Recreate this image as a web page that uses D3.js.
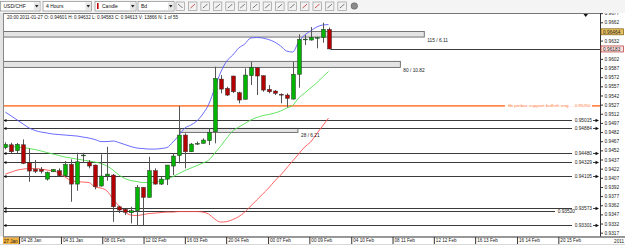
<!DOCTYPE html>
<html><head><meta charset="utf-8">
<script src="https://cdn.jsdelivr.net/npm/d3@7"></script>
<style>
html,body{margin:0;padding:0;background:#f0f0f0;overflow:hidden;}
svg{display:block;font-family:"Liberation Sans",Arial,sans-serif;}
</style></head><body>
<svg id="c" width="625" height="245"></svg>
<script>
// ---- data (USD/CHF, 4 Hours) ----
const open = [0.94563,0.94612,0.94514,0.94612,0.94317,0.94209,0.94205,0.94049,0.94169,0.94186,
0.94104,0.94291,0.93967,0.94432,0.94328,0.94279,0.93935,0.94099,0.94115,0.93595,
0.93553,0.93497,0.93530,0.93913,0.93749,0.94186,0.93967,0.94049,0.94263,0.94435,
0.94771,0.94497,0.94632,0.94635,0.94678,0.94825,0.95689,0.95537,0.95739,0.95465,
0.95357,0.95744,0.95875,0.95744,0.95521,0.95493,0.95439,0.95427,0.95361,0.95767,
0.96341,0.96329,0.96367,0.96370,0.96505];
const high = [0.94651,0.94645,0.94640,0.94700,0.94553,0.94361,0.94246,0.94172,0.94213,0.94225,
0.94345,0.94373,0.94481,0.94481,0.94361,0.94287,0.94455,0.94579,0.94131,0.93612,
0.93557,0.93595,0.93951,0.93918,0.94415,0.94225,0.94087,0.94279,0.94471,0.95247,
0.94799,0.94640,0.94664,0.94717,0.94881,0.95891,0.95755,0.95563,0.95744,0.95481,
0.95865,0.95973,0.95878,0.95747,0.95591,0.95509,0.95455,0.95455,0.95968,0.96423,
0.96411,0.96542,0.96383,0.96613,0.96534];
const low = [0.94537,0.94471,0.94476,0.94295,0.94005,0.94148,0.94140,0.94025,0.94164,0.94099,
0.94087,0.93677,0.93858,0.94312,0.94225,0.93881,0.93926,0.94022,0.93349,0.93492,
0.93459,0.93323,0.93279,0.93295,0.93746,0.93959,0.93951,0.93951,0.94115,0.94307,
0.94225,0.94492,0.94607,0.94632,0.94607,0.94635,0.95455,0.95411,0.95460,0.95291,
0.95353,0.95591,0.95427,0.95481,0.95455,0.95427,0.95291,0.95225,0.95353,0.95547,
0.96247,0.96321,0.96193,0.96285,0.96181];
const close = [0.94619,0.94497,0.94619,0.94307,0.94181,0.94176,0.94176,0.94159,0.94209,0.94104,
0.94291,0.93967,0.94333,0.94443,0.94263,0.93923,0.94099,0.94131,0.93595,0.93541,
0.93503,0.93530,0.93913,0.93749,0.94186,0.93967,0.94049,0.94279,0.94427,0.94771,
0.94497,0.94623,0.94635,0.94689,0.94815,0.95701,0.95525,0.95427,0.95481,0.95345,
0.95755,0.95881,0.95739,0.95509,0.95481,0.95455,0.95435,0.95373,0.95767,0.96341,
0.96345,0.96373,0.96370,0.96505,0.96183];

const bbUpper = [0.95148,0.95083,0.95017,0.94951,0.94886,0.94845,0.94820,0.94804,0.94787,0.94779,
0.94771,0.94763,0.94755,0.94738,0.94722,0.94697,0.94664,0.94664,0.94673,0.94648,
0.94615,0.94582,0.94558,0.94550,0.94541,0.94541,0.94550,0.94566,0.94656,0.94763,
0.94886,0.94935,0.95001,0.95116,0.95279,0.95542,0.95804,0.95985,0.96083,0.96198,
0.96263,0.96362,0.96370,0.96362,0.96337,0.96296,0.96231,0.96149,0.96132,0.96296,
0.96411,0.96477,0.96542,0.96575,0.96583];
const bbMiddle = [0.94599,0.94583,0.94574,0.94566,0.94550,0.94533,0.94509,0.94484,0.94459,0.94435,
0.94410,0.94394,0.94377,0.94361,0.94345,0.94328,0.94304,0.94263,0.94197,0.94115,
0.94058,0.94025,0.94008,0.93992,0.93992,0.94000,0.94025,0.94049,0.94090,0.94140,
0.94189,0.94230,0.94271,0.94312,0.94361,0.94476,0.94591,0.94722,0.94837,0.94902,
0.94960,0.95017,0.95058,0.95091,0.95107,0.95132,0.95165,0.95214,0.95255,0.95378,
0.95460,0.95542,0.95624,0.95722,0.95812];
const bbLower = [0.94131,0.94164,0.94197,0.94213,0.94222,0.94222,0.94213,0.94197,0.94181,0.94148,
0.94082,0.94025,0.94008,0.94000,0.93992,0.93918,0.93902,0.93853,0.93721,0.93607,
0.93508,0.93459,0.93451,0.93467,0.93484,0.93492,0.93500,0.93508,0.93508,0.93516,
0.93516,0.93516,0.93516,0.93508,0.93475,0.93393,0.93344,0.93352,0.93385,0.93434,
0.93508,0.93607,0.93705,0.93803,0.93902,0.94017,0.94115,0.94230,0.94345,0.94459,
0.94574,0.94656,0.94787,0.94919,0.95050];

const levels = [0.95015,0.94884,0.94480,0.94329,0.94105,0.93573,0.93520,0.93301];
const orangeLevel = 0.95250;
const orangeText = "fib pinbar support bullish eng ...";
const lastPrice = 0.96183;
const bidPrice = 0.96464;

const boxHigh = [0.96468,0.95980,0.94881];
const boxLow  = [0.96378,0.95881,0.94815];
const boxStart = [-6,-6,29.2];
const boxEnd   = [70,66,48.9];
const boxLabels = ["115 / 6.11","80 / 10.82","28 / 6.21"];

const yTicks = [0.9317,0.9332,0.9347,0.9362,0.9377,0.9392,0.9407,0.9422,0.9437,0.9452,0.9467,0.9482,
0.9497,0.9512,0.9527,0.9542,0.9557,0.9572,0.9587,0.9602,0.9617,0.9632,0.9647,0.9662,0.9677];
const xTickPos = [2.3,9.3,16.2,23.1,30.0,36.9,43.9,50.8,57.8,64.7,71.6,78.5,85.5,92.4];
const xTickLabels = ["04 28 Jan","04 31 Jan","08 01 Feb","12 02 Feb","16 03 Feb","20 04 Feb","00 07 Feb",
"00 09 Feb","04 10 Feb","08 11 Feb","12 12 Feb","16 13 Feb","16 14 Feb","20 15 Feb"];
const firstLabel = "27 Jan";
const infoText = "20:00 2011-01-27   O: 0.94601   H: 0.94632   L: 0.94583   C: 0.94613   V: 13866   N: 1 of 55";
const toolbarItems = ["USD/CHF","4 Hours","Candle","Bd"];

// ---- layout ----
const svg = d3.select("#c");
const L = 3, R = 600, T = 13, B = 236.5;
const x = d3.scaleLinear().domain([0,54]).range([5.3,328.5]);
const y = d3.scaleLinear().domain([0.9317,0.9662]).range([232.7,22.3]);
const cy = v => Math.round(y(v)) + 0.5;

svg.append("rect").attr("width",625).attr("height",245).attr("fill","#ececec");
svg.append("rect").attr("x",0).attr("y",T).attr("width",625).attr("height",B-T).attr("fill","#fff");
svg.append("rect").attr("x",0).attr("y",T).attr("width",L).attr("height",B-T).attr("fill","#e4e4e4");

svg.append("defs").append("clipPath").attr("id","plot")
  .append("rect").attr("x",L).attr("y",T).attr("width",R-L).attr("height",B-T);
const plot = svg.append("g").attr("clip-path","url(#plot)");

// info line
svg.append("text").attr("x",7).attr("y",19).attr("font-size",4.6).attr("fill","#222").text(infoText);

// boxes
boxHigh.forEach((h,i)=>{
  const x0 = Math.max(L, x(boxStart[i])), x1 = x(boxEnd[i]);
  plot.append("rect").attr("x",x0).attr("y",y(h)).attr("width",x1-x0).attr("height",y(boxLow[i])-y(h))
    .attr("fill","#e4e4e4").attr("stroke","#555").attr("stroke-width",0.8);
  svg.append("text").attr("x",x1+3).attr("y",y(boxLow[i])+5).attr("font-size",4.8).attr("fill","#222").text(boxLabels[i]);
});

// level lines
levels.forEach((v,i)=>{
  const yy = cy(v);
  const short = (i===6);
  const textEnd = short ? 575 : 592;
  plot.append("line").attr("x1",L).attr("x2",textEnd-20).attr("y1",yy).attr("y2",yy)
    .attr("stroke","#3a3a3a").attr("stroke-width",1);
  svg.append("text").attr("x",textEnd).attr("y",yy+1.7).attr("text-anchor","end")
    .attr("font-size",4.8).attr("fill","#222").text(v.toFixed(5));
  if(!short){
    svg.append("path").attr("d",`M593,${yy}h3`).attr("stroke","#111").attr("stroke-width",0.8);
    svg.append("path").attr("d",`M595.5,${yy-1.7}L599,${yy}L595.5,${yy+1.7}Z`).attr("fill","#111");
  }
  svg.append("path").attr("d",`M3,${yy}L6.5,${yy-1.6}L6.5,${yy+1.6}Z`).attr("fill","#111");
});

// orange level
{
  const yy = y(orangeLevel);
  plot.append("line").attr("x1",L).attr("x2",505).attr("y1",yy).attr("y2",yy)
    .attr("stroke","#ff8a4c").attr("stroke-width",1.8);
  plot.append("line").attr("x1",592).attr("x2",R).attr("y1",yy).attr("y2",yy)
    .attr("stroke","#ff8a4c").attr("stroke-width",1.8);
  svg.append("text").attr("x",508).attr("y",yy+1.5).attr("font-size",4)
    .attr("textLength",66).attr("lengthAdjust","spacingAndGlyphs")
    .attr("fill","#ff7a3c").text(orangeText);
  svg.append("text").attr("x",590.5).attr("y",yy+1.5).attr("text-anchor","end").attr("font-size",4.4)
    .attr("fill","#ff7a3c").text(orangeLevel.toFixed(5));
}

// Bollinger bands
const idx = d3.range(open.length);
const band = (arr,color) => plot.append("path").datum(idx)
  .attr("d", d3.line().x(i=>x(i)).y(i=>y(arr[i])).curve(d3.curveMonotoneX))
  .attr("fill","none").attr("stroke",color).attr("stroke-width",0.9);
band(bbUpper,"#5a5aff");
band(bbMiddle,"#50e050");
band(bbLower,"#ff5050");

// candles
const cg = plot.append("g");
idx.forEach(i=>{
  const cx = Math.round(x(i)) + 0.5;
  const up = close[i] >= open[i];
  cg.append("line").attr("x1",cx).attr("x2",cx).attr("y1",y(high[i])).attr("y2",y(low[i]))
    .attr("stroke","#555").attr("stroke-width",1);
  const top = y(Math.max(open[i],close[i])), bot = y(Math.min(open[i],close[i]));
  cg.append("rect").attr("x",cx-2).attr("y",top).attr("width",4).attr("height",Math.max(0.8,bot-top))
    .attr("fill", up ? "#00b400" : "#b40000").attr("stroke","#333").attr("stroke-width",0.5);
});

// last price line
{
  const yy = cy(lastPrice);
  plot.append("line").attr("x1",x(54)+2).attr("x2",R).attr("y1",yy).attr("y2",yy)
    .attr("stroke","#3a3a3a").attr("stroke-width",1);
}

// chart shift marker
svg.append("path").attr("d","M583.5,14L588,14L585.75,17Z").attr("fill","#111");

// frame
svg.append("line").attr("x1",L).attr("x2",R).attr("y1",T+0.5).attr("y2",T+0.5).attr("stroke","#777");
svg.append("line").attr("x1",L+0.5).attr("x2",L+0.5).attr("y1",T).attr("y2",B).attr("stroke","#888");
svg.append("line").attr("x1",R+0.5).attr("x2",R+0.5).attr("y1",T).attr("y2",B+8).attr("stroke","#333");

// right axis
const ax = svg.append("g").attr("transform",`translate(${R+0.5},0)`)
  .call(d3.axisRight(y).tickValues(yTicks).tickSize(2.5).tickPadding(1.5).tickFormat(d3.format(".4f")));
ax.select(".domain").remove();
ax.selectAll("line").attr("stroke","#333");
ax.selectAll("text").attr("font-size",4.8).attr("fill","#222").attr("font-family","Liberation Sans, Arial, sans-serif");
ax.selectAll(".tick").filter(d=>y(d)<T).remove();

// price labels on axis
const priceBox = (v,fill,stroke) => {
  const yy = y(v);
  svg.append("rect").attr("x",R+1).attr("y",yy-3).attr("width",22.5).attr("height",6)
    .attr("fill",fill).attr("stroke",stroke).attr("stroke-width",0.7);
  svg.append("text").attr("x",R+3).attr("y",yy+1.8).attr("font-size",4.8).attr("fill","#222").text(v.toFixed(5));
};
priceBox(bidPrice,"#e8c060","#7a5a10");
priceBox(lastPrice,"#ffe4e0","#b03030");

// bottom axis
svg.append("rect").attr("x",0).attr("y",B).attr("width",625).attr("height",8).attr("fill","#fff");
svg.append("line").attr("x1",L).attr("x2",625).attr("y1",B+0.5).attr("y2",B+0.5).attr("stroke","#333");
svg.append("rect").attr("x",L).attr("y",B+1).attr("width",x(xTickPos[0])-L).attr("height",6.5)
  .attr("fill","#f0b040");
svg.append("text").attr("x",x(xTickPos[0])-1.5).attr("y",B+6).attr("text-anchor","end").attr("font-size",4.6)
  .attr("fill","#222").text(firstLabel);
const bx = svg.append("g").attr("transform",`translate(0,${B+0.5})`)
  .call(d3.axisBottom(x).tickValues(xTickPos).tickSize(7).tickFormat((d,i)=>xTickLabels[i]));
bx.select(".domain").remove();
bx.selectAll("line").attr("stroke","#333");
bx.selectAll("text").attr("text-anchor","start").attr("dx",1.5).attr("y",1.8).attr("dy","0.71em")
  .attr("font-size",4.6).attr("fill","#222").attr("font-family","Liberation Sans, Arial, sans-serif");
svg.append("text").attr("x",624).attr("y",B+6).attr("text-anchor","end").attr("font-size",4.6)
  .attr("fill","#222").text("2011");
svg.append("rect").attr("x",0).attr("y",244).attr("width",625).attr("height",1).attr("fill","#d8d8d8");

// toolbar
svg.append("rect").attr("width",625).attr("height",T).attr("fill","#f4f4f4");
const dd = [[0.5,39.5],[43,48.5],[95,41],[138,36]];
dd.forEach((d,i)=>{
  svg.append("rect").attr("x",d[0]).attr("y",1.5).attr("width",d[1]).attr("height",9.5)
    .attr("fill","#fff").attr("stroke","#8a8a8a").attr("stroke-width",0.7);
  svg.append("rect").attr("x",d[0]+d[1]-6).attr("y",2.5).attr("width",5.5).attr("height",7.5).attr("fill","#e6e6e6");
  svg.append("path").attr("d",`M${d[0]+d[1]-5},5L${d[0]+d[1]-1.5},5L${d[0]+d[1]-3.25},7.5Z`).attr("fill","#222");
  let tx = d[0]+3;
  if(i===2){ svg.append("rect").attr("x",d[0]+2).attr("y",3).attr("width",1.6).attr("height",6).attr("fill","#c00000"); tx = d[0]+7; }
  svg.append("text").attr("x",tx).attr("y",8.3).attr("font-size",5).attr("fill","#111").text(toolbarItems[i]);
});
d3.range(15).forEach(k=>{
  const ix = 176 + 12.45*k;
  if(k===14){
    svg.append("circle").attr("cx",ix+4).attr("cy",6).attr("r",3.3).attr("fill","#8a8a8a").attr("stroke","#555").attr("stroke-width",0.5);
    return;
  }
  svg.append("rect").attr("x",ix).attr("y",2).attr("width",8.5).attr("height",8.5)
    .attr("fill","#f2f2f2").attr("stroke","#8c8c8c").attr("stroke-width",0.6);
  const col = (k===1||k===10||k===11) ? "#c03030" : "#555";
  svg.append("path").attr("d",`M${ix+2},${ix%2?8:4}L${ix+4.5},6L${ix+6.5},${ix%2?4:8}`)
    .attr("fill","none").attr("stroke",col).attr("stroke-width",0.8);
});
</script></body></html>
